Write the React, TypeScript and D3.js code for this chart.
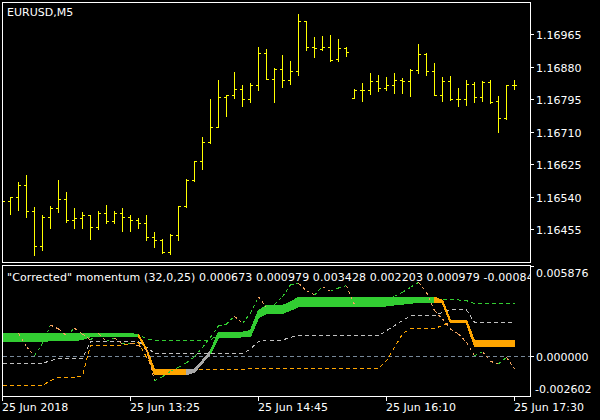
import React from "react";
import * as d3 from "d3";

// EURUSD,M5 bars (bar 0 sits under the left frame)
const openP = [
  1.16528, 1.16528, 1.16539, 1.1657, 1.16502, 1.1641, 1.16486, 1.16509, 1.16534, 1.16478,
  1.16483, 1.16492, 1.16459, 1.16497, 1.16475, 1.16497, 1.16486, 1.16479, 1.16471, 1.16433,
  1.16427, 1.16394, 1.16439, 1.16514, 1.16583, 1.16633, 1.16683, 1.16722, 1.16801, 1.16806,
  1.16822, 1.16794, 1.16832, 1.16916, 1.16848, 1.16874, 1.16845, 1.16869, 1.16998, 1.16932,
  1.16927, 1.16932, 1.169, 1.16929, 1.16798, 1.16819, 1.16819, 1.16843, 1.16825, 1.16832,
  1.16845, 1.16843, 1.16872, 1.16914, 1.16869, 1.16806, 1.16843, 1.16796, 1.16796, 1.16835,
  1.16801, 1.1684, 1.1679, 1.16746, 1.16832,
];
const highP = [
  1.16535, 1.16539, 1.16578, 1.16597, 1.16513, 1.16492, 1.16515, 1.16583, 1.16552, 1.1651,
  1.165, 1.16492, 1.16502, 1.16518, 1.16502, 1.1651, 1.16492, 1.16484, 1.16492, 1.16447,
  1.16429, 1.16442, 1.16515, 1.16586, 1.16633, 1.16696, 1.16794, 1.16845, 1.16806, 1.16866,
  1.16832, 1.16838, 1.16932, 1.16925, 1.16877, 1.16911, 1.16895, 1.17017, 1.17, 1.16958,
  1.16961, 1.16963, 1.16953, 1.16932, 1.1682, 1.16838, 1.16864, 1.16859, 1.16853, 1.16864,
  1.16851, 1.16873, 1.16939, 1.16916, 1.16888, 1.16853, 1.16856, 1.16824, 1.16845, 1.16839,
  1.16842, 1.16845, 1.16804, 1.16832, 1.16844,
];
const lowP = [
  1.1652, 1.16493, 1.16504, 1.16486, 1.16386, 1.164, 1.16457, 1.16499, 1.16473, 1.16457,
  1.16458, 1.16428, 1.16454, 1.16471, 1.16471, 1.16451, 1.16451, 1.16457, 1.16426, 1.16407,
  1.16392, 1.16389, 1.16426, 1.16512, 1.1658, 1.16611, 1.1668, 1.16721, 1.1675, 1.16797,
  1.16776, 1.16788, 1.16819, 1.16848, 1.16787, 1.16826, 1.16834, 1.16858, 1.16923, 1.16905,
  1.16924, 1.16894, 1.16894, 1.16907, 1.16798, 1.1679, 1.16808, 1.16816, 1.16819, 1.16811,
  1.16811, 1.16803, 1.16864, 1.16859, 1.16805, 1.1679, 1.16792, 1.16776, 1.1678, 1.16788,
  1.1679, 1.16785, 1.16708, 1.16742, 1.16822,
];
const closeP = [
  1.16528, 1.16539, 1.1657, 1.16502, 1.1641, 1.16486, 1.16509, 1.16534, 1.16478, 1.16483,
  1.16492, 1.16459, 1.16497, 1.16475, 1.16497, 1.16486, 1.16479, 1.16471, 1.16433, 1.16427,
  1.16394, 1.16439, 1.16514, 1.16583, 1.16633, 1.16683, 1.16722, 1.16801, 1.16806, 1.16822,
  1.16794, 1.16832, 1.16916, 1.16848, 1.16874, 1.16845, 1.16869, 1.17, 1.16932, 1.16929,
  1.16932, 1.16898, 1.16929, 1.16919, 1.16819, 1.16819, 1.16843, 1.16825, 1.16832, 1.16845,
  1.16843, 1.16872, 1.16914, 1.16869, 1.16806, 1.16843, 1.16796, 1.16796, 1.16835, 1.16801,
  1.1684, 1.16788, 1.16746, 1.16832, 1.16832,
];

const priceTicks = [1.16965, 1.1688, 1.16795, 1.1671, 1.16625, 1.1654, 1.16455];

// "Corrected" momentum buffers
const cmMain = [
  0.001441, 0.001441, 0.001441, 0.001441, 0.001441, 0.001441, 0.001441, 0.001441, 0.001441, 0.001441,
  0.001441, 0.001441, 0.001441, 0.001441, 0.001441, 0.001441, 0.001441, 0.001398, 0.000463, -0.000906,
  -0.000906, -0.000906, -0.000906, -0.000906, -0.000863, -0.000298, 0.000311, 0.00155, 0.00155, 0.00155,
  0.00155, 0.001659, 0.002963, 0.003289, 0.003289, 0.003289, 0.003506, 0.003833, 0.003833, 0.003833,
  0.003833, 0.003833, 0.003833, 0.003833, 0.003833, 0.003833, 0.003833, 0.003833, 0.003833, 0.003833,
  0.003833, 0.003833, 0.003833, 0.003833, 0.003833, 0.003615, 0.002311, 0.002311, 0.002311, 0.000979,
  0.000979, 0.000979, 0.000979, 0.000979, 0.000979,
];
const cmEdge = [
  0.000941, 0.000941, 0.000941, 0.000941, 0.000941, 0.000941, 0.001028, 0.001028, 0.001028, 0.001028,
  0.001094, 0.001268, 0.001268, 0.001268, 0.001268, 0.001268, 0.001268, 0.001311, 0.000398, -0.001211,
  -0.001211, -0.001211, -0.001211, -0.001211, -0.001037, -0.000428, 0.000181, 0.001224, 0.001224, 0.001224,
  0.001268, 0.001311, 0.002528, 0.002789, 0.002789, 0.002789, 0.003007, 0.003224, 0.003224, 0.003224,
  0.003224, 0.003224, 0.003224, 0.003224, 0.003224, 0.003224, 0.003224, 0.003224, 0.003289, 0.003354,
  0.003398, 0.003463, 0.003506, 0.003506, 0.003506, 0.003485, 0.00218, 0.00218, 0.00218, 0.000673,
  0.000673, 0.000673, 0.000673, 0.000673, 0.000673,
];
const cmState = [
  "up", "up", "up", "up", "up", "up", "up", "up", "up", "up",
  "up", "up", "up", "up", "up", "up", "up", "up", "dn", "dn",
  "dn", "dn", "dn", "dn", "nt", "nt", "nt", "up", "up", "up",
  "up", "up", "up", "up", "up", "up", "up", "up", "up", "up",
  "up", "up", "up", "up", "up", "up", "up", "up", "up", "up",
  "up", "up", "up", "up", "up", "dn", "dn", "dn", "dn", "dn",
  "dn", "dn", "dn", "dn", "dn",
];
const levelUp = [
  0.001441, 0.001441, 0.001441, 0.001441, 0.001441, 0.001441, 0.001441, 0.001441, 0.001441, 0.001441,
  0.001441, 0.001441, 0.001441, 0.001441, 0.001441, 0.001441, 0.001441, 0.001398, 0.001115, 0.00105,
  0.00105, 0.00105, 0.00105, 0.00105, 0.00105, 0.00105, 0.00105, 0.001441, 0.001441, 0.001441,
  0.001441, 0.001441, 0.002746, 0.00318, 0.00318, 0.00318, 0.003398, 0.003724, 0.003724, 0.003724,
  0.003724, 0.003724, 0.003724, 0.003724, 0.003724, 0.003724, 0.003724, 0.003724, 0.003724, 0.003724,
  0.003724, 0.003724, 0.003724, 0.003724, 0.003724, 0.003659, 0.003659, 0.003659, 0.003615, 0.003428,
  0.003428, 0.003428, 0.003428, 0.003428, 0.003428,
];
const levelMid = [
  -0.000471, -0.000471, -0.000471, -0.000471, -0.000471, -0.000471, -0.000298, -0.000145, -0.000145, -0.000145,
  -0.000145, 0.000941, 0.000941, 0.000941, 0.000941, 0.000941, 0.000941, 0.000941, 0.000572, 0.000181,
  0.000181, 0.000181, 0.000181, 0.000181, 0.000181, 0.000181, 0.000181, 0.000181, 0.000181, 0.000181,
  0.000181, 0.000463, 0.000963, 0.00105, 0.00105, 0.00105, 0.001224, 0.001333, 0.001333, 0.001333,
  0.001333, 0.001333, 0.001333, 0.001333, 0.001333, 0.001333, 0.001333, 0.001333, 0.001659, 0.001985,
  0.002311, 0.002637, 0.002637, 0.002637, 0.002637, 0.002854, 0.003007, 0.003007, 0.003007, 0.002203,
  0.002203, 0.002203, 0.002203, 0.002203, 0.002203,
];
const levelDn = [
  -0.001906, -0.001906, -0.001906, -0.001906, -0.001906, -0.001906, -0.001602, -0.001385, -0.001385, -0.001385,
  -0.001276, 0.000724, 0.000724, 0.000724, 0.000724, 0.000724, 0.000789, 0.000876, -0.00008, -0.000906,
  -0.000906, -0.000906, -0.000906, -0.000906, -0.000906, -0.000906, -0.000906, -0.000906, -0.000906, -0.000906,
  -0.000906, -0.000798, -0.000798, -0.000798, -0.000798, -0.000798, -0.000798, -0.000798, -0.000798, -0.000798,
  -0.000798, -0.000798, -0.000798, -0.000798, -0.000798, -0.000798, -0.000798, -0.000798, -0.000298, 0.000572,
  0.001441, 0.001811, 0.001811, 0.001811, 0.001811, 0.001985, 0.002267, 0.002267, 0.002267, 0.000979,
  0.000979, 0.000979, 0.000979, 0.000979, 0.000979,
];
const momentum = [
  0.001007, 0.001268, 0.001485, 0.000615, 0.000028, 0.000833, 0.002028, 0.001767, 0.001333, 0.001811,
  0.001441, 0.00105, 0.001485, 0.000963, 0.00118, 0.000789, 0.000833, 0.000681, 0.000398, -0.001602,
  -0.001341, -0.000993, -0.000732, -0.000428, -0.000037, 0.000572, 0.001224, 0.001985, 0.002093, 0.002593,
  0.002137, 0.002789, 0.003876, 0.003137, 0.003354, 0.003876, 0.004659, 0.004746, 0.004267, 0.003985,
  0.004528, 0.004224, 0.004441, 0.004593, 0.003354, 0.003398, 0.003441, 0.003506, 0.003615, 0.003898,
  0.004159, 0.004485, 0.004811, 0.004159, 0.002963, 0.00242, 0.001767, 0.001441, 0.000898, 0.000028,
  0.000289, -0.000341, -0.000515, -0.00008, -0.00084,
];

const subTicks = ["0.005876", "0.000000", "-0.002602"];
const timeBars = [0, 16, 32, 48, 64];
const timeTexts = ["25 Jun 2018", "25 Jun 13:25", "25 Jun 14:45", "25 Jun 16:10", "25 Jun 17:30"];

const stateColor: Record<string, string> = { up: "#32CD32", dn: "#FFA500", nt: "#A9A9A9" };
const FONT = "DejaVu Sans";

const App: React.FC = () => {
  const n = openP.length;
  const x = d3.scaleLinear().domain([0, n - 1]).range([2.5, 2.5 + 8 * (n - 1)]);
  const yPrice = d3.scaleLinear().domain([1.16455, 1.16965]).range([229.5, 34.5]);
  const ySub = d3.scaleLinear().domain([-0.002602, 0.005876]).range([396, 266]);
  const snap = (v: number) => Math.floor(v) + 0.5;

  const lineOf = (vals: number[]) =>
    d3
      .line<number>()
      .x((_, i) => x(i))
      .y((v) => ySub(v))(vals) || "";

  const band = d3
    .area<number>()
    .x((i) => x(i))
    .y0((i) => ySub(cmEdge[i]))
    .y1((i) => ySub(cmMain[i]));

  const zeroY = snap(ySub(0));

  return (
    <svg
      width={600}
      height={420}
      style={{ position: "absolute", left: 0, top: 0, display: "block" }}
      fontFamily={FONT}
      fontSize={11}
    >
      <defs>
        <clipPath id="mainClip">
          <rect x={3} y={3} width={527} height={259} />
        </clipPath>
        <clipPath id="subClip">
          <rect x={3} y={266} width={527} height={130} />
        </clipPath>
      </defs>
      <rect x={0} y={0} width={600} height={420} fill="#000" />

      {/* price pane */}
      <g clipPath="url(#mainClip)" stroke="#FFFF00" strokeWidth={1} shapeRendering="crispEdges">
        {openP.map((o, i) => {
          const cx = x(i);
          const yh = Math.floor(yPrice(highP[i]));
          const yl = Math.floor(yPrice(lowP[i]));
          const yo = snap(yPrice(o));
          const yc = snap(yPrice(closeP[i]));
          return (
            <g key={i}>
              <line x1={cx} x2={cx} y1={yh} y2={yl + 1} />
              <line x1={cx - 2.5} x2={cx - 0.5} y1={yo} y2={yo} />
              <line x1={cx + 0.5} x2={cx + 2.5} y1={yc} y2={yc} />
            </g>
          );
        })}
      </g>
      <text x={7} y={16} fill="#fff">EURUSD,M5</text>
      {priceTicks.map((p) => {
        const ty = snap(yPrice(p));
        return (
          <g key={p}>
            <line x1={530} x2={534} y1={ty} y2={ty} stroke="#fff" shapeRendering="crispEdges" />
            <text x={536} y={ty + 4} fill="#fff">{p.toFixed(5)}</text>
          </g>
        );
      })}

      {/* indicator pane */}
      <g clipPath="url(#subClip)" shapeRendering="crispEdges">
        <line x1={3} x2={530} y1={zeroY} y2={zeroY} stroke="#778899" strokeDasharray="4,3" />
        <path d={lineOf(levelDn)} fill="none" stroke="#FFA500" strokeDasharray="4,3" />
        <path d={lineOf(levelMid)} fill="none" stroke="#C0C0C0" strokeDasharray="4,3" />
        <path d={lineOf(levelUp)} fill="none" stroke="#32CD32" strokeDasharray="4,3" />
        {cmState.map((s, i) =>
          i === 0 ? null : (
            <path
              key={i}
              d={band([i - 1, i]) || ""}
              fill={stateColor[s]}
              stroke={stateColor[s]}
              strokeWidth={1.5}
              strokeLinejoin="round"
            />
          )
        )}
        {momentum.map((v, i) =>
          i === 0 ? null : (
            <line
              key={i}
              x1={x(i - 1)}
              x2={x(i)}
              y1={ySub(momentum[i - 1])}
              y2={ySub(v)}
              stroke={v >= momentum[i - 1] ? "#32CD32" : "#F4A460"}
              strokeDasharray="3,3"
            />
          )
        )}
        <text x={7} y={281} fill="#fff" letterSpacing={0.1}>
          "Corrected" momentum (32,0,25) 0.000673 0.000979 0.003428 0.002203 0.000979 -0.000840
        </text>
      </g>
      <line x1={530} x2={534} y1={266.5} y2={266.5} stroke="#fff" shapeRendering="crispEdges" />
      <text x={536} y={277} fill="#fff">{subTicks[0]}</text>
      <line x1={530} x2={534} y1={zeroY} y2={zeroY} stroke="#fff" shapeRendering="crispEdges" />
      <text x={536} y={zeroY + 4} fill="#fff">{subTicks[1]}</text>
      <text x={535} y={392.5} fill="#fff">{subTicks[2]}</text>

      {/* frames */}
      <g fill="none" stroke="#fff" shapeRendering="crispEdges">
        <rect x={2.5} y={2.5} width={528} height={260} />
        <rect x={2.5} y={265.5} width={528} height={131} />
      </g>

      {/* time axis */}
      {timeBars.map((b, k) => (
        <g key={b}>
          <line x1={x(b)} x2={x(b)} y1={397} y2={401} stroke="#fff" shapeRendering="crispEdges" />
          <text x={x(b) - 0.5} y={411} fill="#fff">{timeTexts[k]}</text>
        </g>
      ))}
    </svg>
  );
};

export default App;
